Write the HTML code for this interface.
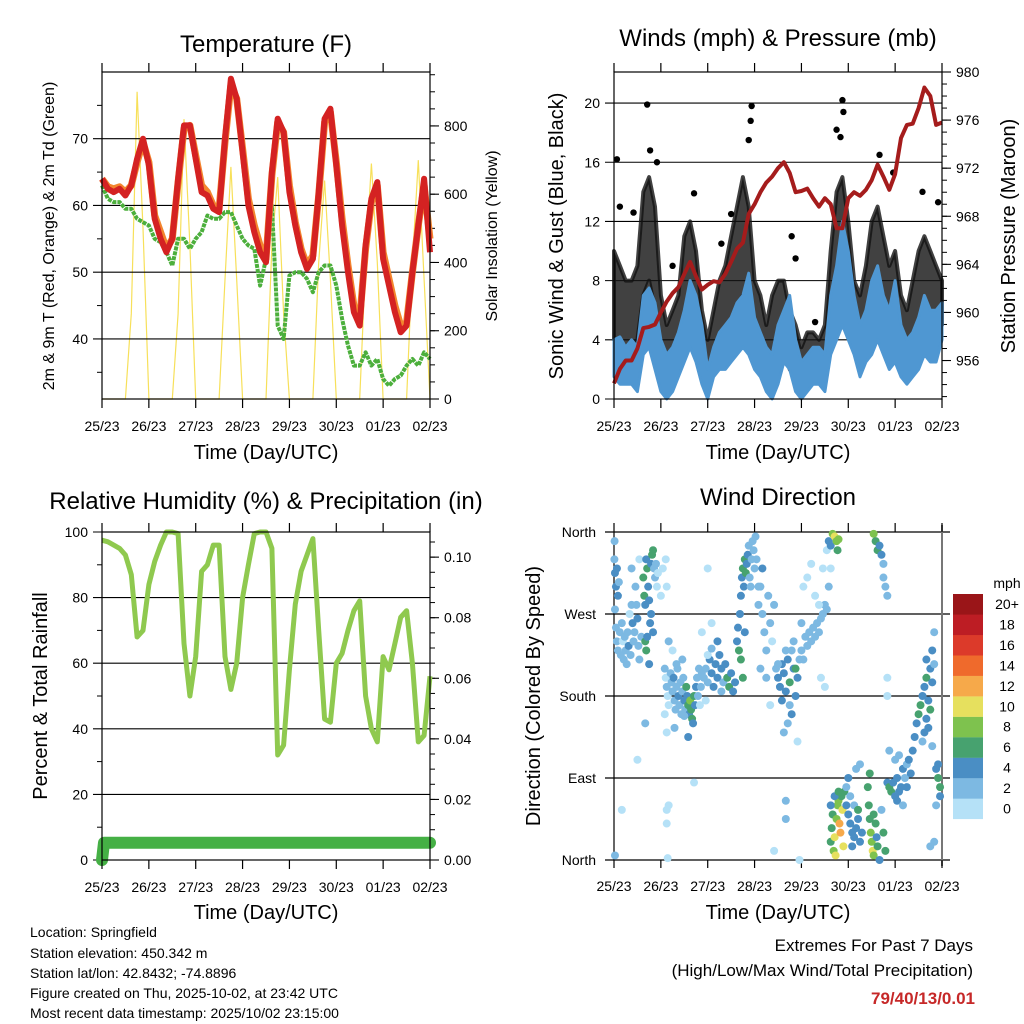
<!DOCTYPE html>
<html><head><meta charset="utf-8"><style>
html,body{margin:0;padding:0;background:#fff;}
svg{display:block;font-family:"Liberation Sans",sans-serif;}
</style></head><body>
<svg id="chart" width="1024" height="1024" viewBox="0 0 1024 1024" xmlns="http://www.w3.org/2000/svg">
<rect x="0" y="0" width="1024" height="1024" fill="#fff"/>
<text x="266" y="52" font-size="24" text-anchor="middle">Temperature (F)</text>
<text x="778" y="46" font-size="24" text-anchor="middle">Winds (mph) &amp; Pressure (mb)</text>
<text x="266" y="509" font-size="24" text-anchor="middle">Relative Humidity (%) &amp; Precipitation (in)</text>
<text x="778" y="505" font-size="24" text-anchor="middle">Wind Direction</text>
<text x="266" y="459" font-size="20" text-anchor="middle">Time (Day/UTC)</text>
<text x="778" y="459" font-size="20" text-anchor="middle">Time (Day/UTC)</text>
<text x="266" y="919" font-size="20" text-anchor="middle">Time (Day/UTC)</text>
<text x="778" y="919" font-size="20" text-anchor="middle">Time (Day/UTC)</text>
<text transform="translate(54,236) rotate(-90)" font-size="16" text-anchor="middle">2m &amp; 9m T (Red, Orange) &amp; 2m Td (Green)</text>
<text transform="translate(497,236) rotate(-90)" font-size="16" text-anchor="middle">Solar Insolation (Yellow)</text>
<text transform="translate(563,236) rotate(-90)" font-size="20" text-anchor="middle">Sonic Wind &amp; Gust (Blue, Black)</text>
<text transform="translate(1015,236) rotate(-90)" font-size="20" text-anchor="middle">Station Pressure (Maroon)</text>
<text transform="translate(47,696) rotate(-90)" font-size="20" text-anchor="middle">Percent &amp; Total Rainfall</text>
<text transform="translate(540,696) rotate(-90)" font-size="20" text-anchor="middle">Direction (Colored By Speed)</text>
<g font-size="14">
<text x="30" y="937">Location: Springfield</text>
<text x="30" y="958">Station elevation: 450.342 m</text>
<text x="30" y="978">Station lat/lon: 42.8432; -74.8896</text>
<text x="30" y="998">Figure created on Thu, 2025-10-02, at 23:42 UTC</text>
<text x="30" y="1018">Most recent data timestamp: 2025/10/02 23:15:00</text>
</g>
<text x="973" y="951" font-size="17" text-anchor="end">Extremes For Past 7 Days</text>
<text x="973" y="976" font-size="17" text-anchor="end">(High/Low/Max Wind/Total Precipitation)</text>
<text x="975" y="1004" font-size="17" font-weight="bold" fill="#c62828" text-anchor="end">79/40/13/0.01</text>
<text x="1007" y="588" font-size="14" text-anchor="middle">mph</text>
</svg>
<script>
// ---- data (3-hourly, hours 0..168) ----
const dayLabels = ["25/23","26/23","27/23","28/23","29/23","30/23","01/23","02/23"];
const tempRed = [64,62.5,62,62.5,61.5,63,67,70,66,58,55,53,55,64,72,72,67,62,61.5,59.5,59,70,79,76,68,60,56,53,51.5,65,73,71,62,57,53,50.5,52,62,73,74.5,66,57,50,44,42,54,61,63.5,52,48,44,41,42,50,57,64,53];
const tempOrange = [64,62.8,62.5,62.8,62,63,66.5,69.5,66.5,58.5,56,53.5,55,63.5,71.5,72,67.5,63,62,60,59.5,69.5,78,76,68.5,61,57,54,52,64.5,72.5,71,63,57.5,53.5,51,52.5,61.5,72.5,74,66.5,58,51,45,43,53.5,60.5,63,53,49,45,42,42.5,50,57,63,55];
const dewpoint = [63,61,60.5,60.5,59.5,59.5,58,57.5,57,55,54.5,53,51,55,55,53.5,55,56,58.5,58,58,59,59,57,55,54,53.5,48,52,60,42,40,49.5,50,50,49,47,50,51,51,48,43,39,36,36,38,36,37,34,33,34,34.5,36,37,36,38,37];
const solar = [0,0,0,0,0,250,900,500,0,0,0,0,0,250,820,450,0,0,0,0,0,350,680,350,0,0,0,0,0,450,650,250,0,0,0,0,0,400,640,350,0,0,0,0,0,400,690,400,0,0,0,0,0,400,700,350,0];
const pressure = [954.1,955.3,956,956,957,958.7,958.8,959,960,960.9,961.6,962.1,963.2,964.2,963,961.9,962.3,962.6,962.5,963.2,964.2,965.3,965.8,968.2,969,970,970.8,971.3,972,972.5,971.6,970,970.1,970.3,969.5,968.8,969.5,969,967,967,969.5,970,969.7,970.2,971,972.3,971.3,970.2,971.5,974.5,975.6,975.7,977,978.7,978,975.6,975.8];
const windHi = [4,4.2,3.5,4,3.5,7,7.5,6.5,4,3,3.5,4.5,6,8,7,5,2,3.5,4.5,5,5.5,6.5,7,8.5,5.5,4.5,3.5,3,5,6,7,4,2.5,3,3.5,3.5,3,7,9,12,10,7,5,6,8,9,7,6,8,5,4,4.5,5.5,7,6,6,6.5];
const windLo = [1.5,1,1,1,0.5,3,3.5,2,0.5,0,0.5,1.5,2.5,3.5,2.5,1,0,1.5,2,2,2.5,3,3.5,3,2,1.5,0.5,0,1,2.5,2,0.5,0,0.5,1,1,0.5,3,4,5,4,3,1.5,2.5,3,4,3,2,2.5,1.5,1,1.5,2,3,2.5,2.5,4];
const gustHi = [10,9,8,8,9,14,15,13,7,5,6,7,11,12,10,6,4,6,8,9,11,13,15,13,8,7,5,7,8,8,6,5,3.5,4.5,4.5,4,5,10,14,15,12,8,7,9,12,13,11,9,10,7,6,8,10,11,10,9,8];
const gustLo = [4,3.5,3,3.5,4,7,8,6,2,1,1.5,3,5,6,4,2,0.5,3,4,4,5,6,7,6,3.5,3,2,1.5,3,3.5,2,1.5,1,1.5,2,1.5,2,5,7,8,6,4,3,4,6,6,5,4,4,3,2,3,5,6,5,5,5];
const gustPeakHours = [1.5,17,18.5,22,41,70.5,70,69,91,93,103,114,117,117.5,116,136,143,158,166,3,10,30,55,60];
const gustPeakVals = [16.2,19.9,16.8,16,13.9,19.8,18.8,17.5,11,9.5,5.2,18.2,20.2,19.4,17.7,16.5,15.3,14,13.3,13,12.6,9,10.5,12.5];
const rh = [97.5,97,96,95,93,87,68,70,84,91,96,100,100,99.5,66,50,62,88,90,96,96,62,52,60,80,90,99.5,100,100,95,32,35,58,78,88,93,98,70,43,42,60,63,70,76,79,50,40,36,62,58,66,74,76,60,36,38,56];
const precipHours = [0,1,168];
const precipVals = [0,0.0057,0.0057];
const dirLabels = ["North","East","South","West","North"];
const speedBinLabels = ["0","2","4","6","8","10","12","14","16","18","20+"];
const speedColors = ["#b5e1f7","#7db9e2","#4a8ec4","#47a26f","#7ec24e","#e6e05e","#f6a94a","#ef6a2c","#dc3a2a","#bd1d24","#9a1518"];
// wind direction observations: [hour, direction deg, speed mph]
const dirObs = [
[0.2,330,3],[0.5,315,5],[1,300,5],[1.5,320,5],[2,290,5],[2.5,305,3],[0.5,275,3],[1,255,3],[1.5,240,3],[2,230,3],[3,250,3],[3.5,225,3],[4,260,3],[4.5,240,1],[5,220,3],[5.5,245,3],[6,230,3],[6.5,215,3],[7,250,3],[7.5,235,5],[8,270,1],[8.5,225,3],[9,280,3],[9.5,260,5],[10,240,3],[10.5,250,3],[11,300,3],[11.5,280,3],[12,265,5],[12.5,235,3],[13,220,3],[13,330,1],[9,320,3],[14,245,3],[0.3,350,3],[0.5,5,3],
[15,310,7],[15.5,290,7],[16,280,5],[16.5,330,5],[17,320,7],[17.5,300,5],[18,285,5],[18.5,260,5],[16,240,7],[16.5,230,7],[17,245,5],[19,325,5],[19.5,335,7],[20,340,7],[20.5,320,3],[21,310,3],[21.5,325,3],[22,300,1],[19,270,5],[20,250,5],[18,215,5],[22.5,315,1],[25,320,1],[24,290,1],[27,300,1],[26.5,330,1],
[26,210,3],[26.5,200,1],[27,190,3],[27.5,180,1],[28,170,1],[26,160,1],[29,205,3],[29.5,195,3],[30,185,3],[30.5,200,5],[31,175,3],[31.5,165,3],[32,190,3],[32.5,210,3],[33,180,5],[33.5,170,3],[34,195,3],[34.5,160,3],[35,185,3],[35.5,200,3],[36,175,5],[36.5,165,3],[37,190,7],[37.5,180,5],[38,170,7],[38.5,160,5],[39,175,9],[39.5,165,7],[40,155,7],[40.5,150,5],[41,180,7],[41.5,170,5],[42,190,5],[42.5,200,3],[43,180,3],[43.5,210,3],[44,170,1],[44.5,190,3],[45,205,3],[28,240,3],[30,230,1],[32,215,3],[35,220,3],[38,135,5],[27,140,1],[31,145,3],[36,158,3],
[46,200,3],[47,210,3],[48,195,3],[49,220,5],[50,205,5],[51,190,5],[52,215,5],[53,200,5],[54,225,5],[55,210,5],[56,195,3],[57,215,5],[58,200,7],[59,190,7],[60,205,5],[61,185,5],[62,195,5],[48,225,1],[50,232,3],[53,240,5],[45,250,1],[47,175,1],[55,185,3],
[63,240,5],[63.5,255,5],[64,230,7],[64.5,270,5],[65,290,5],[65.5,310,5],[66,320,7],[66.5,300,5],[67,330,7],[67.5,315,7],[68,325,5],[68.5,335,5],[69,345,3],[69.5,310,3],[70,300,3],[70.5,330,3],[71,350,3],[71.5,340,3],[72,320,3],[72.5,355,3],[73,330,3],[74,300,3],[67,250,5],[65,220,7],[66,200,7],
[74,280,3],[75,300,3],[76,270,3],[77,250,3],[78,230,3],[79,290,3],[80,260,3],[81,240,1],[82,280,3],[76,320,5],[75,210,3],[78,200,3],[80,170,1],
[83,210,3],[84,200,5],[85,190,5],[86,215,5],[87,205,5],[88,185,5],[89,220,5],[90,195,7],[91,230,3],[92,210,5],[93,180,5],[94,200,5],[95,220,3],[86,175,5],[88,230,3],[89,150,3],[90,170,3],[92,240,3],[91,160,5],[84,215,3],[93,210,7],[87,140,3],
[96,230,3],[97,220,3],[98,245,3],[99,235,3],[100,250,3],[101,240,3],[102,255,3],[103,245,3],[104,260,3],[105,250,3],[106,265,3],[107,270,3],[108,280,3],[109,275,3],[110,300,3],[111,320,1],[97,300,1],[99,310,1],[101,325,1],[103,290,1],[105,280,1],[107,320,1],[109,340,1],[106,200,1],[108,190,1],[96,260,3],[94,130,1],
[110,350,5],[111,345,5],[112,358,9],[113,355,11],[114,350,9],[114.5,340,7],[115,352,9],[111,20,7],[111.5,35,7],[112,50,7],[112.5,10,9],[113,25,11],[113.5,5,11],[114,45,9],[114.5,60,9],[115,65,9],[115.5,40,13],[116,30,13],[116.5,70,7],[117,55,11],[117.5,15,11],[111,60,5],[113,70,5],[115,75,7],
[118,75,7],[119,60,5],[120,50,5],[121,40,5],[122,30,5],[123,25,5],[124,35,5],[125,45,5],[126,20,5],[127,30,5],[119,80,3],[121,70,3],[123,60,3],[120,90,5],[124,100,3],[122,15,5],[125,55,7],
[130,80,7],[130.5,60,7],[131,45,7],[131.5,30,9],[132,20,9],[132.5,10,11],[133,5,9],[131,95,7],[134,40,7],[134.5,25,5],[135,15,7],[136,0,5],[133,358,9],[134,350,7],[135,340,7],[136,345,5],[137,335,5],[138,325,3],[139,300,3],[140,290,3],[138,310,3],[137,55,3],[138,30,7],[139,10,7],[133,50,7],
[140,85,5],[141,80,7],[142,75,7],[143,85,5],[144,70,5],[145,65,5],[146,75,5],[147,80,5],[148,100,5],[149,90,3],[150,105,3],[151,110,5],[152,95,5],[144,110,3],[146,115,3],[148,60,3],[141,120,3],[145,90,5],[150,80,5],
[153,120,5],[154,135,5],[155,150,5],[156,160,7],[157,170,7],[158,180,5],[159,190,5],[160,200,7],[161,175,5],[162,210,5],[163,230,5],[164,250,3],[159,140,5],[160,155,5],[162,165,7],[163,195,5],[164,215,3],[165,100,5],[166,90,7],[167,80,7],[166,105,5],[167,70,5],[165,60,3],[164,20,3],[163,125,3],[161,145,5],[158,130,3],[160,220,5],
[4,55,1],[12,110,1],[27,55,1],[27,40,1],[28,60,1],[27.5,2,1],[50,260,1],[82,10,1],[88,45,3],[88,65,3],[95,0,1],[48,320,1],[140,200,1],[162,15,3],[41,85,1],[16,150,3],[140,180,1],[126,105,3]
];

// ---- rendering ----
const NS = "http://www.w3.org/2000/svg";
const svg = document.getElementById('chart');
function mk(tag, attrs, parent){const e=document.createElementNS(NS,tag);for(const k in attrs)e.setAttribute(k,attrs[k]);(parent||svg).appendChild(e);return e;}
const STEP = 3;
function scaleX(x0,x1){return h=>x0+h/168*(x1-x0);}
function scaleY(v0,v1,y0,y1){return v=>y0+(v-v0)/(v1-v0)*(y1-y0);}
const P = {
 tl:{x0:102,x1:430,y0:72,y1:399},
 tr:{x0:614,x1:942,y0:72,y1:399},
 bl:{x0:102,x1:430,y0:532,y1:860},
 br:{x0:614,x1:942,y0:532,y1:860}
};
const xTL=scaleX(102,430), xTR=scaleX(614,942), xBL=scaleX(102,430), xBR=scaleX(614,942);
const yTemp=scaleY(31,80,399,72), ySolar=scaleY(0,958,399,72);
const yWind=scaleY(0,22.1,399,72), yPres=scaleY(952.8,980,399,72);
const yRH=scaleY(0,100,860,532), yPrec=scaleY(0,0.1083,860,532);
const yDir=scaleY(0,360,860,532);

function frame(p,name,g){
 let el=mk('rect',{x:p.x0,y:p.y0,width:p.x1-p.x0,height:p.y1-p.y0,fill:'none',stroke:'#000','stroke-width':1.2},g);
 
 
}
function xAxis(p,xs,name,g){
 dayLabels.forEach((lab,i)=>{
  const x=xs(i*24);
  let t=mk('line',{x1:x,y1:p.y0-9,x2:x,y2:p.y0,stroke:'#000','stroke-width':1.2},g);
  
  
  let b=mk('line',{x1:x,y1:p.y1,x2:x,y2:p.y1+9,stroke:'#000','stroke-width':1.2},g);
  
  
  let tx=mk('text',{x:x,y:p.y1+32,'font-size':14,'text-anchor':'middle'},g);
  tx.textContent=lab;
  
  
 });
}
function leftAxis(p,vals,ys,fmt,name,g,grid){
 vals.forEach(v=>{
  const y=ys(v);
  let t=mk('line',{x1:p.x0-9,y1:y,x2:grid?p.x1:p.x0,y2:y,stroke:'#000','stroke-width':1.1},g);
  
  
  let tx=mk('text',{x:p.x0-14,y:y+5,'font-size':14,'text-anchor':'end'},g);
  tx.textContent=fmt(v);
  
  
 });
}
function minorLeft(p,vals,ys,g,name){
 vals.forEach(v=>{const y=ys(v);
  let t=mk('line',{x1:p.x0-5,y1:y,x2:p.x0,y2:y,stroke:'#000','stroke-width':1},g);
  
  });
}
function rightAxis(p,vals,ys,fmt,name,g,minor){
 (minor||[]).forEach(v=>{const y=ys(v);
  let t=mk('line',{x1:p.x1,y1:y,x2:p.x1+5,y2:y,stroke:'#000','stroke-width':1},g);
  
  });
 vals.forEach(v=>{
  const y=ys(v);
  let t=mk('line',{x1:p.x1,y1:y,x2:p.x1+9,y2:y,stroke:'#000','stroke-width':1.1},g);
  
  
  let tx=mk('text',{x:p.x1+14,y:y+5,'font-size':14,'text-anchor':'start'},g);
  tx.textContent=fmt(v);
  
  
 });
}
function pathFrom(arr,xs,ys,hours){return arr.map((v,i)=>(i?'L':'M')+xs(hours?hours[i]:i*STEP).toFixed(1)+','+ys(v).toFixed(1)).join('');}
function band(hi,lo,xs,ys){
 let d=hi.map((v,i)=>(i?'L':'M')+xs(i*STEP).toFixed(1)+','+ys(v).toFixed(1)).join('');
 for(let i=lo.length-1;i>=0;i--) d+='L'+xs(i*STEP).toFixed(1)+','+ys(lo[i]).toFixed(1);
 return d+'Z';
}
function range(a,b,s){const r=[];for(let v=a;v<=b+1e-9;v+=s)r.push(+v.toFixed(4));return r;}

// ---- Temperature panel ----
const gT=mk('g',{});


let solarLine=mk('path',{d:pathFrom(solar,xTL,ySolar),fill:'none',stroke:'#f7e05a','stroke-width':1.2},gT);


leftAxis(P.tl,[40,50,60,70],yTemp,v=>v,'temp',gT,true);
minorLeft(P.tl,[35,45,55,65,75],yTemp,gT,'temp');
rightAxis(P.tl,[0,200,400,600,800],ySolar,v=>v,'solar',gT,range(50,950,50));
let dew=mk('path',{d:pathFrom(dewpoint,xTL,yTemp),fill:'none',stroke:'#4caf3c','stroke-width':4,'stroke-dasharray':'4 1','stroke-linejoin':'round'},gT);


let t9=mk('path',{d:pathFrom(tempOrange,xTL,yTemp),fill:'none',stroke:'#f3852e','stroke-width':7,'stroke-linejoin':'round'},gT);


let t2=mk('path',{d:pathFrom(tempRed,xTL,yTemp),fill:'none',stroke:'#d42222','stroke-width':6,'stroke-linejoin':'round'},gT);


frame(P.tl,'temp',gT);
xAxis(P.tl,xTL,'temp',gT);

// ---- Winds panel ----
const gW=mk('g',{});


leftAxis(P.tr,[0,4,8,12,16,20],yWind,v=>v,'wind',gW,true);
rightAxis(P.tr,[956,960,964,968,972,976,980],yPres,v=>v,'pressure',gW,range(953,979,1));
let gb=mk('path',{d:band(gustHi,gustLo,xTR,yWind),fill:'#111',stroke:'#111','stroke-width':4,'stroke-linejoin':'round','fill-opacity':0.8,'stroke-opacity':0.8},gW);


gustPeakHours.forEach((h,i)=>{
 let c=mk('circle',{cx:xTR(h),cy:yWind(gustPeakVals[i]),r:3.2,fill:'#000'},gW);
 
 
});
let wb=mk('path',{d:band(windHi,windLo,xTR,yWind),fill:'#4f97d2',stroke:'#4f97d2','stroke-width':3,'stroke-linejoin':'round'},gW);


let pl=mk('path',{d:pathFrom(pressure,xTR,yPres),fill:'none',stroke:'#a51c1c','stroke-width':4,'stroke-linejoin':'round'},gW);


frame(P.tr,'wind',gW);
xAxis(P.tr,xTR,'wind',gW);

// ---- RH panel ----
const gR=mk('g',{});


leftAxis(P.bl,[0,20,40,60,80,100],yRH,v=>v,'rh',gR,true);
minorLeft(P.bl,[10,30,50,70,90],yRH,gR,'rh');
rightAxis(P.bl,[0,0.02,0.04,0.06,0.08,0.10],yPrec,v=>v.toFixed(2),'precip',gR,range(0.005,0.105,0.005));
let rl=mk('path',{d:pathFrom(rh,xBL,yRH),fill:'none',stroke:'#8fc94f','stroke-width':5,'stroke-linejoin':'round'},gR);


let pr=mk('path',{d:pathFrom(precipVals,xBL,yPrec,precipHours),fill:'none',stroke:'#45b045','stroke-width':12,'stroke-linecap':'round','stroke-linejoin':'round'},gR);


frame(P.bl,'rh',gR);
xAxis(P.bl,xBL,'rh',gR);

// ---- Wind direction panel ----
const gD=mk('g',{});


dirLabels.forEach((lab,i)=>{
 const y=yDir(i*90);
 let l=mk('line',{x1:605,y1:y,x2:950,y2:y,stroke:'#000','stroke-width':1.2},gD);
 
 
 let tx=mk('text',{x:596,y:y+5,'font-size':14,'text-anchor':'end'},gD);
 tx.textContent=lab;
 
 
});
let lb=mk('line',{x1:614,y1:532,x2:614,y2:860,stroke:'#000','stroke-width':1.2},gD);


let rb=mk('line',{x1:942,y1:525,x2:942,y2:866,stroke:'#777','stroke-width':2},gD);


dayLabels.forEach((lab,i)=>{
 const x=xBR(i*24);
 let t=mk('line',{x1:x,y1:523,x2:x,y2:532,stroke:'#000','stroke-width':1.2},gD);
 
 
 let b=mk('line',{x1:x,y1:860,x2:x,y2:868,stroke:'#000','stroke-width':1.2},gD);
 
 
 let tx=mk('text',{x:x,y:891,'font-size':14,'text-anchor':'middle'},gD);
 tx.textContent=lab;
 
 
});
dirObs.forEach(o=>{
 const bin=Math.min(10,Math.floor(o[2]/2));
 let c=mk('circle',{cx:xBR(o[0]),cy:yDir(o[1]),r:4,fill:speedColors[bin]},gD);
 
 
});
speedBinLabels.forEach((lab,i)=>{
 const y=594+(10-i)*20.45;
 let r=mk('rect',{x:953,y:y,width:30,height:20.6,fill:speedColors[i]},gD);
 
 
 let tx=mk('text',{x:1007,y:y+15,'font-size':14,'text-anchor':'middle'},gD);
 tx.textContent=lab;
 
 
});
</script>
</body></html>
